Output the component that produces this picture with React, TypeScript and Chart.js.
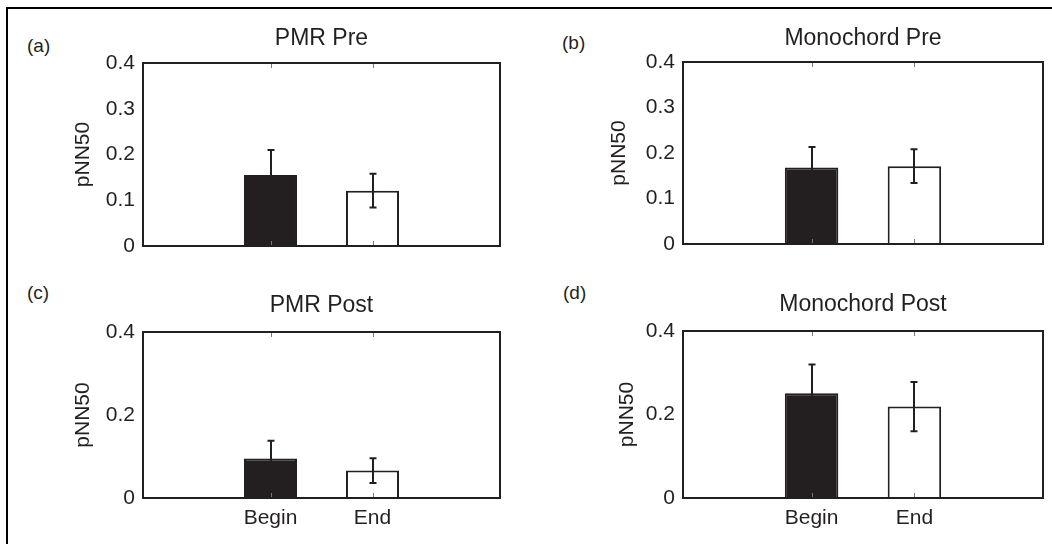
import React, { useEffect, useRef } from 'react';
import { Chart, registerables } from 'chart.js';

Chart.register(...registerables);

// ---------- data ----------
const categories = ['Begin', 'End'];
const panelLetters = ['(a)', '(b)', '(c)', '(d)'];
const panelTitles = ['PMR Pre', 'Monochord Pre', 'PMR Post', 'Monochord Post'];
const yAxisLabel = 'pNN50';
const beginMeans = [0.155, 0.168, 0.095, 0.251];
const endMeans = [0.121, 0.171, 0.066, 0.219];
const beginErrors = [0.055, 0.045, 0.043, 0.069];
const endErrors = [0.037, 0.037, 0.030, 0.059];
const yMaxValues = [0.4, 0.4, 0.4, 0.4];
const yStepValues = [0.1, 0.1, 0.2, 0.2];
const showCategoryLabels = [false, false, true, true];
const xMin = -0.25;
const xMax = 3.25;

// ---------- style ----------
const INK = '#231f20';
const FONT = "'Liberation Sans', Arial, Helvetica, sans-serif";
const TICK_SIZE = 21;
const TITLE_SIZE = 23;
const LETTER_SIZE = 19;

// page-pixel geometry of each panel (chart area box, title centre, axis-title centre, letter)
const LAYOUT = [
  { L: 143, T: 63, R: 500, B: 246, titleY: 39, ylabX: 83, letterX: 27, letterY: 45 },
  { L: 683, T: 62, R: 1043, B: 244, titleY: 39, ylabX: 619, letterX: 562, letterY: 42 },
  { L: 143, T: 332, R: 500, B: 498, titleY: 306, ylabX: 83, letterX: 27, letterY: 292 },
  { L: 683, T: 331, R: 1043, B: 498, titleY: 305, ylabX: 627, letterX: 563, letterY: 292 },
];

const Y_W = 80;
const TOP_H = 60;
const BOTTOM_H = 32;
const PAD_R = 4;

function makeDecorPlugin(errs: number[]) {
  return {
    id: 'decor',
    afterDatasetsDraw(chart: any) {
      const { ctx, chartArea: a, scales } = chart;
      const meta = chart.getDatasetMeta(0);
      const ys = scales.y;
      const xs = scales.x;
      ctx.save();
      // small inward ticks at category positions
      ctx.strokeStyle = '#777';
      ctx.lineWidth = 1;
      categories.forEach((c, i) => {
        const px = Math.round(xs.getPixelForValue(i + 1)) + 0.5;
        ctx.beginPath();
        ctx.moveTo(px, a.bottom);
        ctx.lineTo(px, a.bottom - 5);
        ctx.moveTo(px, a.top);
        ctx.lineTo(px, a.top + 5);
        ctx.stroke();
      });
      // error bars
      ctx.strokeStyle = INK;
      ctx.lineWidth = 2;
      meta.data.forEach((el: any, i: number) => {
        const raw = chart.data.datasets[0].data[i] as any;
        const v = raw.y;
        const yTop = ys.getPixelForValue(v + errs[i]);
        const yBot = ys.getPixelForValue(v - errs[i]);
        const x = Math.round(el.x);
        ctx.beginPath();
        ctx.moveTo(x, yTop);
        ctx.lineTo(x, yBot);
        ctx.moveTo(x - 3.5, yTop);
        ctx.lineTo(x + 3.5, yTop);
        ctx.moveTo(x - 3.5, yBot);
        ctx.lineTo(x + 3.5, yBot);
        ctx.stroke();
      });
      // box
      ctx.strokeStyle = INK;
      ctx.lineWidth = 2;
      ctx.strokeRect(a.left, a.top, a.right - a.left, a.bottom - a.top);
      ctx.restore();
    },
  };
}

function Panel({ idx }: { idx: number }) {
  const ref = useRef<HTMLCanvasElement | null>(null);
  const g = LAYOUT[idx];
  const left = g.L - Y_W;
  const top = g.T - TOP_H;
  const width = g.R - left + PAD_R;
  const height = g.B - top + BOTTOM_H;

  useEffect(() => {
    if (!ref.current) return;
    const titleLH = TITLE_SIZE * 1.2;
    const tPadTop = g.titleY - top - titleLH / 2;
    const tPadBottom = TOP_H - tPadTop - titleLH;
    const ylabLH = TICK_SIZE * 1.2;
    const ylabPad = g.ylabX - left - ylabLH / 2;
    const means = [beginMeans[idx], endMeans[idx]];
    const errs = [beginErrors[idx], endErrors[idx]];

    const chart = new Chart(ref.current, {
      type: 'bar',
      data: {
        datasets: [
          {
            data: categories.map((c, i) => ({ x: i + 1, y: means[i] })),
            backgroundColor: [INK, '#ffffff'],
            borderColor: INK,
            borderWidth: 2,
            barPercentage: 0.52,
            categoryPercentage: 1,
          } as any,
        ],
      },
      options: {
        responsive: false,
        animation: false,
        devicePixelRatio: 1,
        layout: { padding: { left: 0, right: PAD_R, top: 0, bottom: 0 } },
        plugins: {
          legend: { display: false },
          tooltip: { enabled: false },
          title: {
            display: true,
            text: panelTitles[idx],
            fullSize: false,
            color: INK,
            font: { family: FONT, size: TITLE_SIZE, weight: 'normal', lineHeight: 1.2 },
            padding: { top: tPadTop, bottom: tPadBottom },
          },
        },
        scales: {
          x: {
            type: 'linear',
            offset: false,
            bounds: 'data',
            min: xMin,
            max: xMax,
            afterDataLimits: (s: any) => {
              s.min = xMin;
              s.max = xMax;
            },
            afterBuildTicks: (s: any) => {
              s.ticks = categories.map((c, i) => ({ value: i + 1 }));
            },
            afterFit: (s: any) => {
              s.height = BOTTOM_H;
            },
            grid: { display: false, drawTicks: false, offset: false },
            border: { display: false },
            ticks: {
              display: showCategoryLabels[idx],
              padding: 8,
              autoSkip: false,
              maxRotation: 0,
              color: INK,
              font: { family: FONT, size: TICK_SIZE },
              callback: (v: any) => categories[Number(v) - 1] ?? '',
            },
          },
          y: {
            min: 0,
            max: yMaxValues[idx],
            afterFit: (s: any) => {
              s.width = Y_W;
            },
            grid: { display: false, drawTicks: false },
            border: { display: false },
            ticks: {
              stepSize: yStepValues[idx],
              padding: 8,
              color: INK,
              font: { family: FONT, size: TICK_SIZE },
              callback: (v: any) => (Number(v) === 0 ? '0' : Number(v).toFixed(1)),
            },
            title: {
              display: true,
              text: yAxisLabel,
              color: INK,
              font: { family: FONT, size: TICK_SIZE, lineHeight: 1.2 },
              padding: { top: ylabPad, bottom: 0 },
            },
          },
        },
      } as any,
      plugins: [makeDecorPlugin(errs)],
    });
    return () => chart.destroy();
  }, []);

  return (
    <canvas
      ref={ref}
      width={width}
      height={height}
      style={{ position: 'absolute', left, top, width, height }}
    />
  );
}

export default function App() {
  return (
    <div
      style={{
        position: 'absolute',
        left: 0,
        top: 0,
        width: 1052,
        height: 544,
        overflow: 'hidden',
        background: '#ffffff',
      }}
    >
      <div
        style={{
          position: 'absolute',
          left: 6,
          top: 7,
          width: 1046,
          height: 537,
          borderTop: '2px solid #000',
          borderLeft: '2px solid #000',
          boxSizing: 'border-box',
        }}
      />
      {LAYOUT.map((g, i) => (
        <div
          key={'l' + i}
          style={{
            position: 'absolute',
            left: g.letterX,
            top: g.letterY - LETTER_SIZE / 2,
            fontFamily: FONT,
            fontSize: LETTER_SIZE,
            lineHeight: 1,
            color: INK,
          }}
        >
          {panelLetters[i]}
        </div>
      ))}
      {LAYOUT.map((g, i) => (
        <Panel key={'p' + i} idx={i} />
      ))}
    </div>
  );
}
